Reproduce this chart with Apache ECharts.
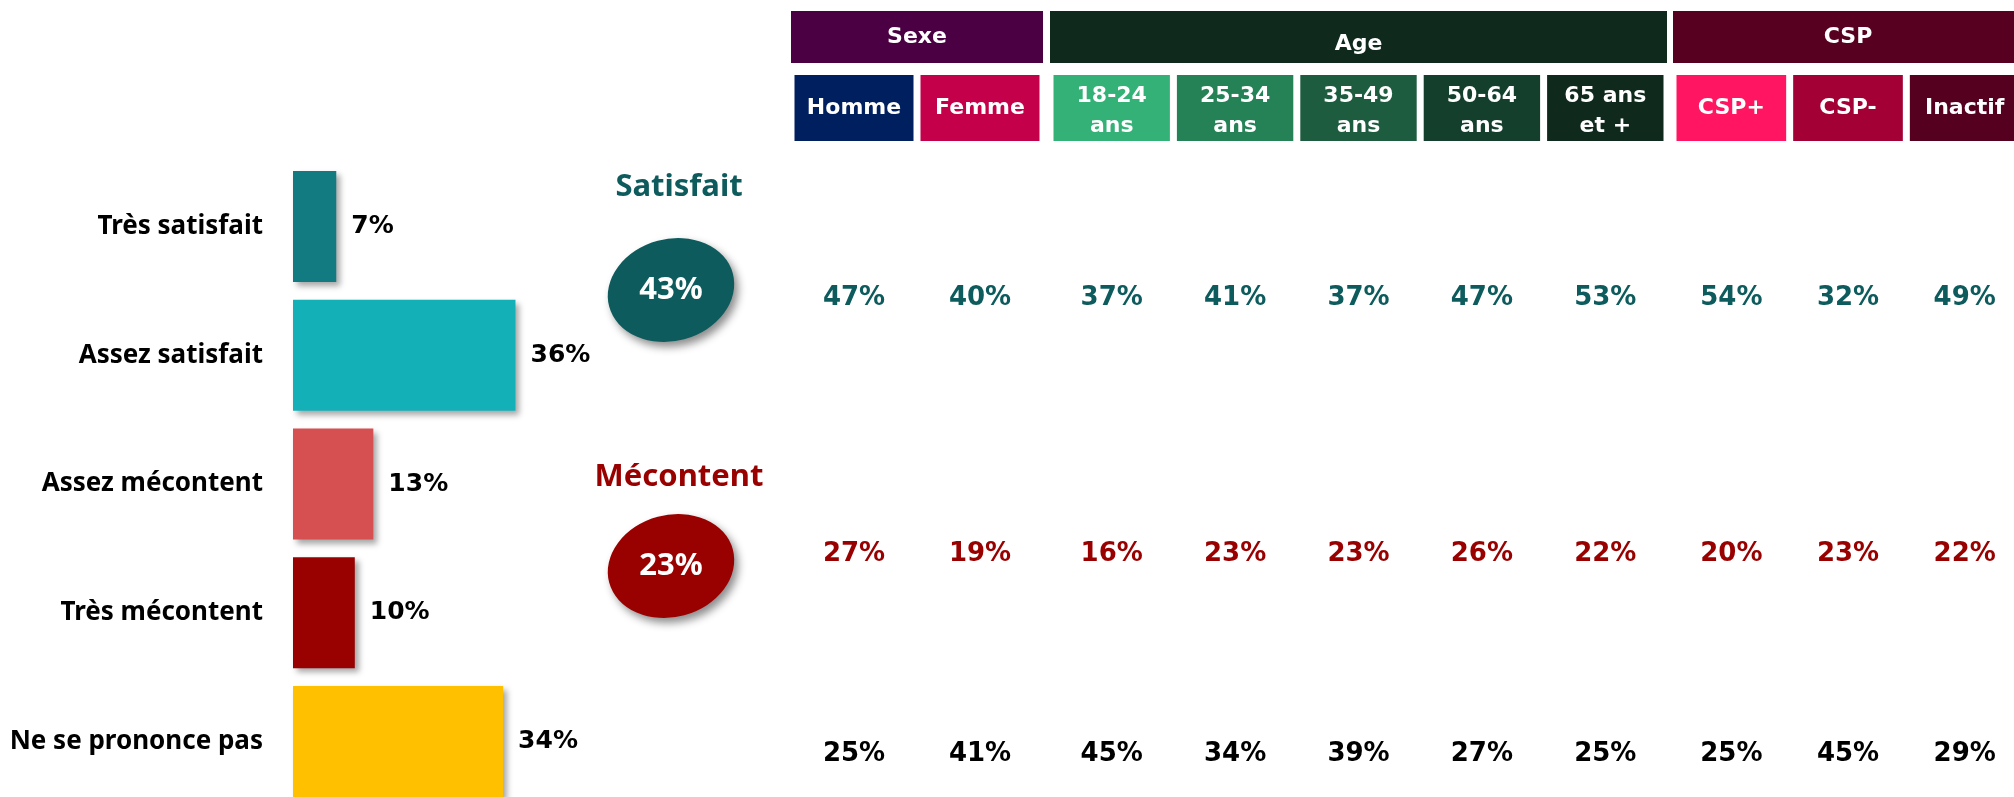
<!DOCTYPE html>
<html>
<head>
<meta charset="utf-8">
<script src="https://cdn.jsdelivr.net/npm/echarts@6/dist/echarts.min.js"></script>
<style>
html, body { margin: 0; padding: 0; background: #fff; }
#main { width: 2014px; height: 797px; }
</style>
</head>
<body>
<div id="main"></div>
<script>
// données du graphique
var barCategories = ['Très satisfait', 'Assez satisfait', 'Assez mécontent', 'Très mécontent', 'Ne se prononce pas'];
var barValues = [7, 36, 13, 10, 34];
var totalNames = ['Satisfait', 'Mécontent'];
var totalValues = [43, 23];
var groupNames = ['Sexe', 'Age', 'CSP'];
var sexeColumns = ['Homme', 'Femme'];
var ageColumns = ['18-24\nans', '25-34\nans', '35-49\nans', '50-64\nans', '65 ans\net +'];
var cspColumns = ['CSP+', 'CSP-', 'Inactif'];
var rowNames = ['Satisfait', 'Mécontent', 'Ne se prononce pas'];
var satisfaitRow = [47, 40, 37, 41, 37, 47, 53, 54, 32, 49];
var mecontentRow = [27, 19, 16, 23, 23, 26, 22, 20, 23, 22];
var nspRow = [25, 41, 45, 34, 39, 27, 25, 25, 45, 29];

// couleurs et mise en page
var barColors = ['#127b82', '#14b0b8', '#d64f51', '#990000', '#ffc000'];
var totalColors = ['#0d5b5d', '#990000'];
var rowColors = ['#0d5b5d', '#990000', '#000000'];
var groupColors = ['#4a0042', '#0f2a1c', '#570020'];
var columnColors = ['#001f5f', '#c5004b', '#34b176', '#258256', '#1d5c3f', '#153f2d', '#0f291c', '#ff1561', '#a30035', '#56001f'];
var groupBoxes = [{ left: 791, width: 252 }, { left: 1050, width: 617 }, { left: 1673, width: 350 }];
var groupTextShift = [0, 14, 0];
var rowCenters = [298, 554, 754];
var titleGaps = [36, 22];
var headerBottom = 141;

var chart = echarts.init(document.getElementById('main'));

var grid = [
  { left: 293, top: 162, width: 618, height: 644, outerBoundsMode: 'none' },
  { left: 606, top: 152, width: 130, height: 552, outerBoundsMode: 'none' }
];
var xAxis = [
  { gridIndex: 0, type: 'value', min: 0, max: 100, show: false },
  { gridIndex: 1, type: 'category', data: ['Total'], show: false }
];
var yAxis = [
  {
    gridIndex: 0, type: 'category', data: barCategories, inverse: true,
    axisLine: { show: false }, axisTick: { show: false },
    axisLabel: { margin: 30, color: '#000', fontFamily: 'Noto Sans', fontWeight: 'bold', fontSize: 26 }
  },
  { gridIndex: 1, type: 'category', data: totalNames, inverse: true, show: false }
];

var series = [
  {
    type: 'bar', xAxisIndex: 0, yAxisIndex: 0, barWidth: 111, silent: true,
    data: barValues.map(function (v, i) { return { value: v, itemStyle: { color: barColors[i] } }; }),
    itemStyle: { shadowColor: 'rgba(0,0,0,0.35)', shadowBlur: 6, shadowOffsetX: 4, shadowOffsetY: 4 },
    label: { show: true, position: 'right', distance: 15, formatter: '{c}%', color: '#000', fontFamily: 'DejaVu Sans', fontWeight: 'bold', fontSize: 25 }
  },
  {
    type: 'scatter', xAxisIndex: 1, yAxisIndex: 1, symbol: 'circle', symbolSize: [128, 102], symbolRotate: 15, silent: true,
    data: totalNames.map(function (n, i) { return { value: ['Total', n, totalValues[i]], itemStyle: { color: totalColors[i] } }; }),
    itemStyle: { opacity: 1, shadowColor: 'rgba(0,0,0,0.45)', shadowBlur: 8, shadowOffsetX: 4, shadowOffsetY: 5 },
    label: { show: true, position: 'inside', formatter: function (p) { return p.value[2] + '%'; }, color: '#fff', fontFamily: 'Noto Sans', fontWeight: 'bold', fontSize: 31 }
  },
  {
    type: 'scatter', xAxisIndex: 1, yAxisIndex: 1, symbol: 'circle', symbolSize: [128, 102], silent: true,
    itemStyle: { color: 'rgba(0,0,0,0)', opacity: 1 },
    data: totalNames.map(function (n, i) { return { value: ['Total', n, totalValues[i]], label: { distance: titleGaps[i], color: totalColors[i] } }; }),
    label: { show: true, position: 'top', offset: [8, 0], formatter: function (p) { return p.value[1]; }, fontFamily: 'Noto Sans', fontWeight: 'bold', fontSize: 31 }
  }
];

// tableau croisé : une grille par groupe et par ligne
var rows = [satisfaitRow, mecontentRow, nspRow];
var groupColumns = [sexeColumns, ageColumns, cspColumns];
var colStart = 0;
groupColumns.forEach(function (cols, g) {
  var box = groupBoxes[g];
  var pitch = box.width / cols.length;
  var start = colStart;
  rows.forEach(function (vals, r) {
    var gi = grid.length;
    grid.push({ left: box.left, width: box.width, top: rowCenters[r] - 20, height: 40, outerBoundsMode: 'none' });
    var xi = xAxis.length;
    var ax = {
      gridIndex: gi, type: 'category', data: cols,
      axisLine: { show: false }, axisTick: { show: false }, axisLabel: { show: false }, splitLine: { show: false }
    };
    if (r === 0) {
      ax.position = 'top';
      ax.offset = rowCenters[0] - 20 - headerBottom;
      ax.data = cols.map(function (c, i) {
        var ts = { backgroundColor: columnColors[start + i] };
        if (c.indexOf('\n') >= 0) { ts.lineHeight = 30; ts.padding = [8, 0, 0, 0]; ts.height = 58; }
        return { value: c, textStyle: ts };
      });
      ax.axisLabel = {
        show: true, interval: 0, margin: 0, color: '#fff', fontFamily: 'DejaVu Sans', fontWeight: 'bold', fontSize: 22,
        width: pitch - 7, height: 66, lineHeight: 66, align: 'center', verticalAlign: 'bottom'
      };
    }
    xAxis.push(ax);
    if (r === 0) {
      // bandeau du groupe au-dessus des colonnes
      var shift = groupTextShift[g];
      xAxis.push({
        gridIndex: gi, type: 'category', data: [groupNames[g]], position: 'top',
        offset: ax.offset + 66 + 12,
        axisLine: { show: false }, axisTick: { show: false }, splitLine: { show: false },
        axisLabel: {
          interval: 0, margin: 0, color: '#fff', fontFamily: 'DejaVu Sans', fontWeight: 'bold', fontSize: 22,
          backgroundColor: groupColors[g], width: box.width, height: 52 - shift, lineHeight: 52 - shift,
          padding: [shift, 0, 0, 0], align: 'center', verticalAlign: 'bottom'
        }
      });
    }
    var yi = yAxis.length;
    yAxis.push({ gridIndex: gi, type: 'category', data: [rowNames[r]], show: false });
    series.push({
      type: 'scatter', xAxisIndex: xi, yAxisIndex: yi, symbolSize: 1, silent: true,
      itemStyle: { color: 'rgba(0,0,0,0)', opacity: 1 },
      data: cols.map(function (c, i) { return [c, rowNames[r], vals[start + i]]; }),
      label: {
        show: true, position: 'inside', formatter: function (p) { return p.value[2] + '%'; },
        color: rowColors[r], fontFamily: 'DejaVu Sans', fontWeight: 'bold', fontSize: 26
      }
    });
  });
  colStart += cols.length;
});

chart.setOption({
  backgroundColor: '#fff',
  animation: false,
  grid: grid,
  xAxis: xAxis,
  yAxis: yAxis,
  series: series
});
</script>
</body>
</html>
